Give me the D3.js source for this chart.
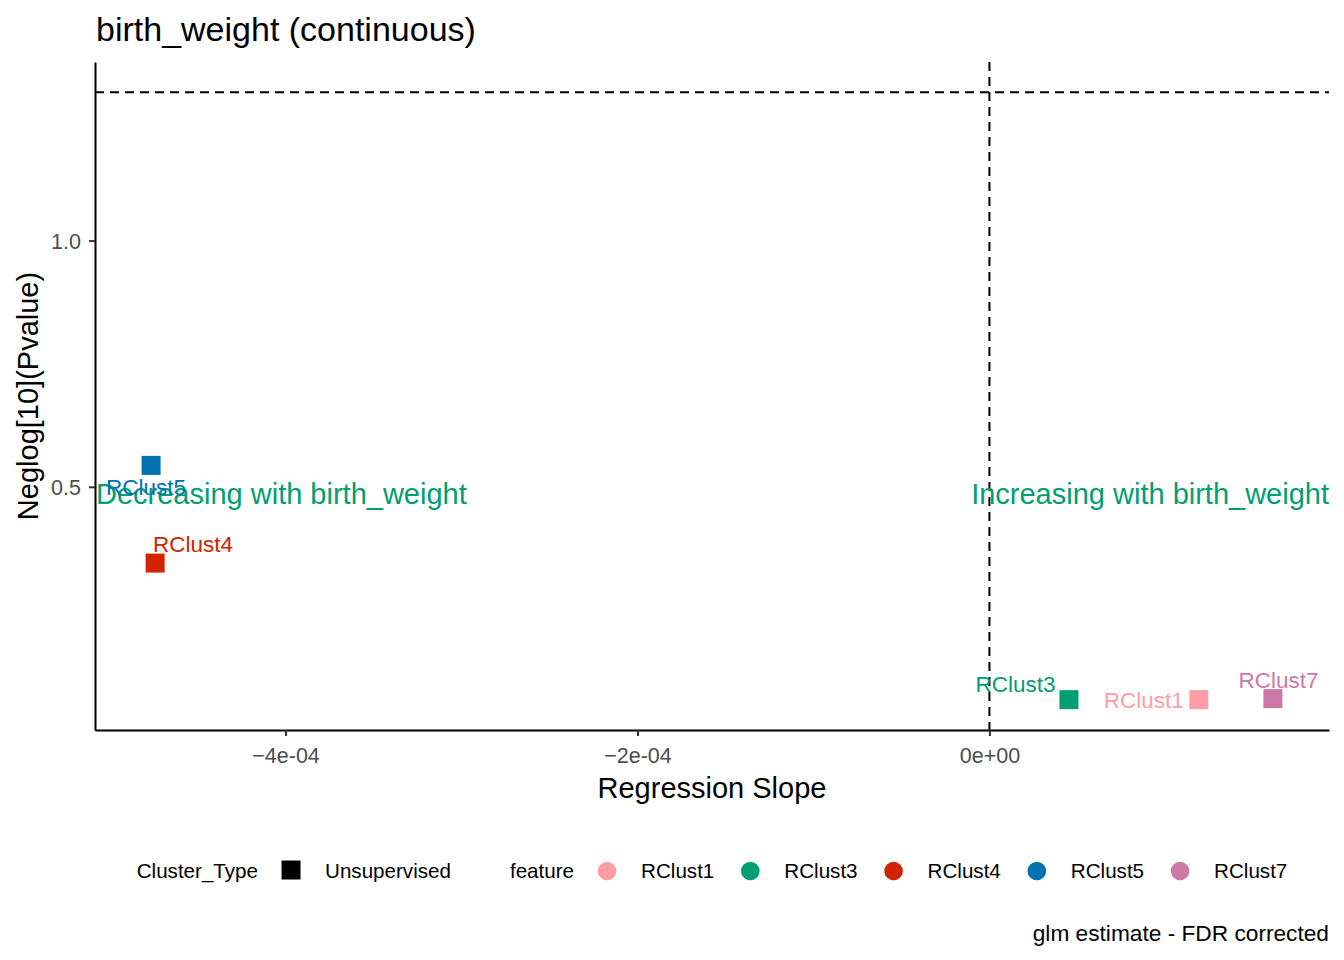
<!DOCTYPE html>
<html>
<head>
<meta charset="utf-8">
<script src="https://cdn.jsdelivr.net/npm/d3@7"></script>
<style>
  body { margin: 0; background: #fff; }
  svg text { font-family: "Liberation Sans", Arial, sans-serif; }
</style>
</head>
<body>
<div id="chart"></div>
<script>
// data
const features = ["RClust1", "RClust3", "RClust4", "RClust5", "RClust7"];
const slopes = [1.190e-4, 4.52e-5, -4.741e-4, -4.764e-4, 1.611e-4];
const neglogP = [0.0678, 0.0678, 0.3451, 0.5435, 0.0698];
const featureColors = ["#FF9DA7", "#009E73", "#D42300", "#0072B2", "#CC79A7"];
const xTicks = [-4e-4, -2e-4, 0];
const yTicks = [0.5, 1.0];
const pThreshold = 0.05;
const annotations = ["Decreasing with birth_weight", "Increasing with birth_weight"];

// where ggrepel put each label, relative to its point (px)
const labelNudge = {
  RClust1: [-55, 8.5],
  RClust3: [-53.5, -7.5],
  RClust4: [38, -11.5],
  RClust5: [-5, 30],
  RClust7: [5.5, -10.5]
};

const W = 1344, H = 960;
const margin = { top: 62, right: 15, bottom: 230, left: 95 };
const width = W - margin.left - margin.right;
const height = H - margin.top - margin.bottom;

const points = features.map((f, i) => ({ feature: f, x: slopes[i], y: neglogP[i], color: featureColors[i] }));

const svg = d3.select("#chart").append("svg")
    .attr("width", W)
    .attr("height", H);

// ggplot-style 5% expansion, reference lines included
function expand(vals) {
    const [lo, hi] = d3.extent(vals);
    const pad = (hi - lo) * 0.05;
    return [lo - pad, hi + pad];
}
const hline = -Math.log10(pThreshold);
const xScale = d3.scaleLinear().domain(expand(slopes.concat([0]))).range([0, width]);
const yScale = d3.scaleLinear().domain(expand(neglogP.concat([hline]))).range([height, 0]);

const g = svg.append("g")
    .attr("transform", `translate(${margin.left}, ${margin.top})`);

// title
svg.append("text")
    .attr("x", margin.left + 1)
    .attr("y", 41)
    .style("font-size", "34px")
    .style("fill", "#000")
    .text("birth_weight (continuous)");

// reference lines
g.append("line")
    .attr("x1", 0).attr("x2", width)
    .attr("y1", yScale(hline)).attr("y2", yScale(hline))
    .style("stroke", "#000").style("stroke-width", 2)
    .style("stroke-dasharray", "9,6");

g.append("line")
    .attr("x1", xScale(0)).attr("x2", xScale(0))
    .attr("y1", 0).attr("y2", height)
    .style("stroke", "#000").style("stroke-width", 2)
    .style("stroke-dasharray", "9,6");

// axes
const fmtX = d => {
    if (d === 0) return "0e+00";
    const exp = Math.floor(Math.log10(Math.abs(d)));
    const mant = Math.round(d / Math.pow(10, exp));
    const e = Math.abs(exp).toString().padStart(2, "0");
    return (mant < 0 ? "\u2212" + (-mant) : mant) + "e" + (exp < 0 ? "-" : "+") + e;
};

const xAxis = g.append("g")
    .attr("transform", `translate(0, ${height})`)
    .call(d3.axisBottom(xScale).tickValues(xTicks).tickFormat(fmtX).tickSize(6).tickPadding(4).tickSizeOuter(0));

const yAxis = g.append("g")
    .call(d3.axisLeft(yScale).tickValues(yTicks).tickFormat(d3.format(".1f")).tickSize(6).tickPadding(4).tickSizeOuter(0));

[xAxis, yAxis].forEach(ax => {
    ax.select(".domain").style("stroke", "#000").style("stroke-width", 2);
    ax.selectAll(".tick line").style("stroke", "#333").style("stroke-width", 2);
    ax.selectAll(".tick text")
        .style("font-size", "21.5px")
        .style("fill", "#4D4D4D");
});
xAxis.selectAll(".tick text").attr("dy", null).attr("y", 33);
yAxis.selectAll(".tick text").attr("x", -14).attr("dy", "0.36em");

// axis titles
g.append("text")
    .attr("x", width / 2)
    .attr("y", height + 68)
    .style("text-anchor", "middle")
    .style("font-size", "29px")
    .text("Regression Slope");

g.append("text")
    .attr("transform", "rotate(-90)")
    .attr("x", -height / 2)
    .attr("y", -57)
    .style("text-anchor", "middle")
    .style("font-size", "29px")
    .text("Neglog[10](Pvalue)");

// side annotations
g.append("text")
    .attr("x", 1)
    .attr("y", yScale(0.5))
    .attr("dy", "0.6em")
    .style("font-size", "29px")
    .style("fill", "#009E73")
    .text(annotations[0]);

g.append("text")
    .attr("x", width)
    .attr("y", yScale(0.5))
    .attr("dy", "0.6em")
    .style("text-anchor", "end")
    .style("font-size", "29px")
    .style("fill", "#009E73")
    .text(annotations[1]);

// points (filled squares)
const sq = 19;
g.selectAll(".pt")
    .data(points)
    .enter()
    .append("rect")
    .attr("class", "pt")
    .attr("x", d => xScale(d.x) - sq / 2)
    .attr("y", d => yScale(d.y) - sq / 2)
    .attr("width", sq)
    .attr("height", sq)
    .attr("fill", d => d.color);

// labels
g.selectAll(".pt-label")
    .data(points)
    .enter()
    .append("text")
    .attr("class", "pt-label")
    .attr("x", d => xScale(d.x) + labelNudge[d.feature][0])
    .attr("y", d => yScale(d.y) + labelNudge[d.feature][1])
    .style("text-anchor", "middle")
    .style("font-size", "22.5px")
    .style("fill", d => d.color)
    .text(d => d.feature);

// legend, flowed left to right then centred under the panel
const legend = svg.append("g");
const legendY = 871;
let cursor = 0;

function legendText(txt) {
    const t = legend.append("text")
        .attr("x", cursor)
        .attr("y", legendY + 7)
        .style("font-size", "20.6px")
        .style("fill", "#000")
        .text(txt);
    cursor += t.node().getComputedTextLength();
}

legendText("Cluster_Type");
cursor += 33;
legend.append("rect")
    .attr("x", cursor - sq / 2).attr("y", legendY - 1 - sq / 2)
    .attr("width", sq).attr("height", sq)
    .attr("fill", "#000");
cursor += 34;
legendText("Unsupervised");
cursor += 59;
legendText("feature");
features.forEach((f, i) => {
    cursor += i === 0 ? 33 : 36;
    legend.append("circle")
        .attr("cx", cursor).attr("cy", legendY)
        .attr("r", 9.3)
        .attr("fill", featureColors[i]);
    cursor += 34;
    legendText(f);
});
legend.attr("transform", `translate(${margin.left + width / 2 - cursor / 2}, 0)`);

// caption
svg.append("text")
    .attr("x", margin.left + width)
    .attr("y", 941)
    .style("text-anchor", "end")
    .style("font-size", "22.7px")
    .style("fill", "#000")
    .text("glm estimate - FDR corrected");
</script>
</body>
</html>
